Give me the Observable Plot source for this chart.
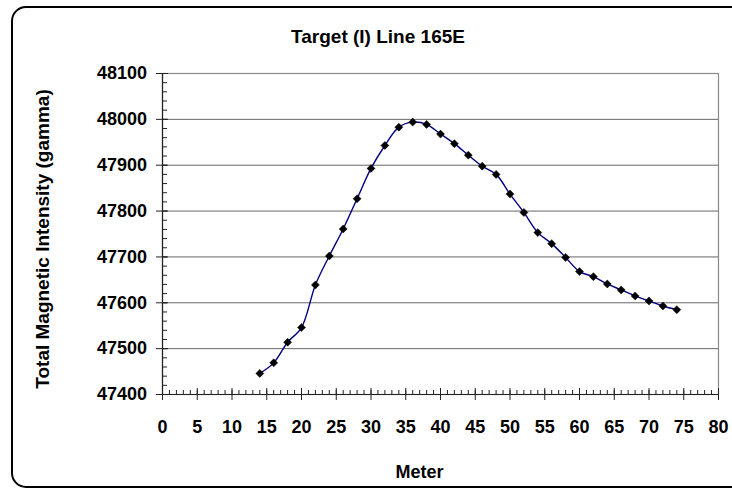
<!DOCTYPE html>
<html><head><meta charset="utf-8">
<script src="https://cdn.jsdelivr.net/npm/d3@7"></script>
<script src="https://cdn.jsdelivr.net/npm/@observablehq/plot@0.6"></script>
<style>
html,body{margin:0;padding:0;background:#fff;}
#chart{width:732px;height:489px;overflow:hidden;}
</style></head><body><div id="chart"></div>
<script>
const title = "Target (I) Line 165E";
const xTitle = "Meter";
const yTitle = "Total Magnetic Intensity (gamma)";
const meters = [14,16,18,20,22,24,26,28,30,32,34,36,38,40,42,44,46,48,50,52,54,56,58,60,62,64,66,68,70,72,74];
const gamma = [47446,47469,47514,47546,47639,47702,47761,47827,47893,47943,47983,47994,47989,47968,47947,47922,47898,47880,47837,47797,47753,47729,47699,47668,47657,47641,47628,47615,47604,47593,47585];
const xMajor = [0,5,10,15,20,25,30,35,40,45,50,55,60,65,70,75,80];
const xMinor = d3.range(0, 81, 1);
const yMajor = [47400,47500,47600,47700,47800,47900,48000,48100];
const yMinor = d3.range(47400, 48101, 20);

const data = meters.map((m, i) => ({meter: m, gamma: gamma[i]}));
const font = "'Liberation Sans', Arial, Helvetica, sans-serif";
const axisColor = "#222";

const plot = Plot.plot({
  width: 732, height: 489,
  marginLeft: 162, marginRight: 14, marginTop: 73, marginBottom: 95,
  style: {fontFamily: font, background: "#fff", color: "#000"},
  x: {domain: [0, 80]},
  y: {domain: [47400, 48100]},
  marks: [
    Plot.ruleY(yMajor, {stroke: "#666", strokeWidth: 1}),
    Plot.frame({stroke: "#8a8a8a", strokeWidth: 1.2}),
    Plot.ruleX([0], {stroke: axisColor, strokeWidth: 1.2}),
    Plot.ruleY([47400], {stroke: axisColor, strokeWidth: 1.2}),
    Plot.axisX(xMinor, {tickSize: 4, dy: -4, tickFormat: () => "", label: null, stroke: axisColor}),
    Plot.axisX(xMajor, {tickSize: 12, dy: -6, tickFormat: () => "", label: null, stroke: axisColor}),
    Plot.axisX(xMajor, {tickSize: 0, tickPadding: 25.5, fontSize: 18, fontWeight: "bold", label: null, fill: "#000"}),
    Plot.axisY(yMinor, {tickSize: 5, dx: 5, tickFormat: () => "", label: null, stroke: axisColor}),
    Plot.axisY(yMajor, {tickSize: 12, dx: 6, tickFormat: () => "", label: null, stroke: axisColor}),
    Plot.axisY(yMajor, {tickSize: 0, tickPadding: 15.5, fontSize: 18, fontWeight: "bold", label: null, fill: "#000", tickFormat: d => String(d)}),
    Plot.line(data, {x: "meter", y: "gamma", stroke: "#000080", strokeWidth: 1.4, curve: "catmull-rom"}),
    Plot.dot(data, {x: "meter", y: "gamma", symbol: "diamond2", r: 3.6, fill: "#000", stroke: "#000", strokeWidth: 0.5}),
    Plot.text([title], {frameAnchor: "top", textAnchor: "middle", dx: -62.5, dy: -37, fontSize: 19, fontWeight: "bold", lineAnchor: "middle", fill: "#000"}),
    Plot.text([xTitle], {frameAnchor: "bottom", textAnchor: "middle", dx: -21, dy: 78, fontSize: 18, fontWeight: "bold", lineAnchor: "middle", fill: "#000"}),
    Plot.text([yTitle], {frameAnchor: "left", textAnchor: "middle", rotate: -90, dx: -120, dy: 5, fontSize: 19, fontWeight: "bold", lineAnchor: "middle", fill: "#000"})
  ]
});

d3.select(plot).append("rect")
  .attr("x", 12).attr("y", 7).attr("width", 740).attr("height", 480)
  .attr("rx", 14).attr("ry", 14)
  .attr("fill", "none").attr("stroke", "#000").attr("stroke-width", 2);

document.getElementById("chart").appendChild(plot);
</script>
</body></html>
